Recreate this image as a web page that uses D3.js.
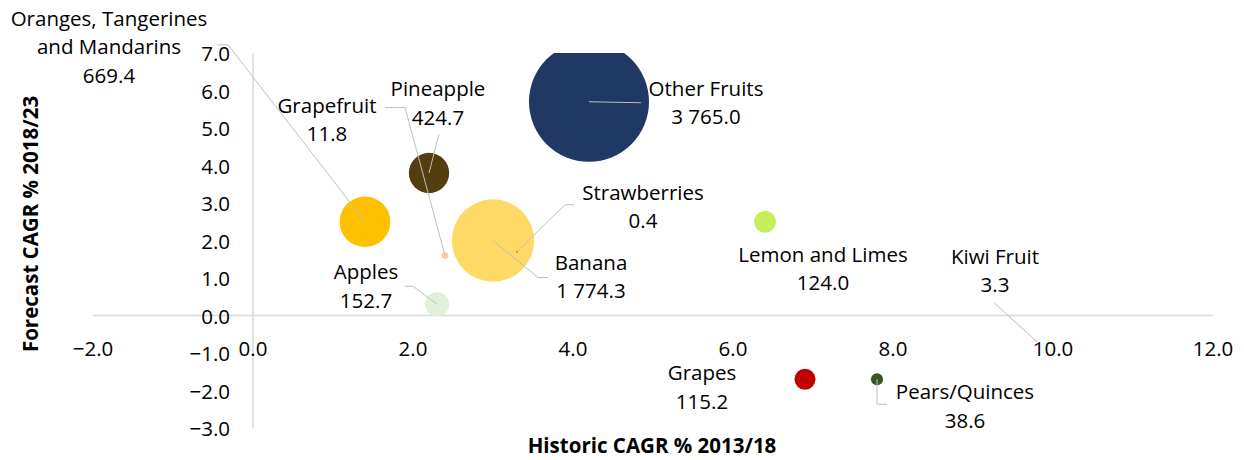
<!DOCTYPE html>
<html>
<head>
<meta charset="utf-8">
<script src="https://cdn.jsdelivr.net/npm/d3@7"></script>
<style>
  body { margin: 0; background: #fff; }
  svg { display: block; font-family: "Open Sans", sans-serif; }
  .ax line { stroke: #d9d9d9; stroke-width: 1.5; }
  .tick-label { font-size: 20.5px; fill: #000; }
  .ax-title { font-size: 20.5px; font-weight: bold; fill: #000; }
  .lbl { font-size: 20.5px; fill: #000; }
  .leader { fill: none; stroke: #bfbfbf; stroke-width: 1; }
</style>
</head>
<body>
<svg id="chart" width="1244" height="460"></svg>
<script>
// data
var fruits = ['Oranges, Tangerines and Mandarins', 'Pineapple', 'Other Fruits', 'Banana',
  'Strawberries', 'Grapefruit', 'Apples', 'Lemon and Limes', 'Grapes', 'Pears/Quinces', 'Kiwi Fruit']
var historic = [1.4, 2.2, 4.2, 3.0, 3.3, 2.4, 2.3, 6.4, 6.9, 7.8, 9.8]
var forecast = [2.5, 3.8, 5.7, 2.0, 1.7, 1.6, 0.3, 2.5, -1.7, -1.7, -0.7]
var sizes = [669.4, 424.7, 3765.0, 1774.3, 0.4, 11.8, 152.7, 124.0, 115.2, 38.6, 3.3]
var sizeLabels = ['669.4', '424.7', '3 765.0', '1 774.3', '0.4', '11.8', '152.7', '124.0', '115.2', '38.6', '3.3']
var xTicks = [-2, 0, 2, 4, 6, 8, 10, 12]
var yTicks = [-3, -2, -1, 0, 1, 2, 3, 4, 5, 6, 7]

var colors = ['#ffc000', '#543d0e', '#203864', '#ffd966', '#ff0000', '#f8cbad',
  '#e2efda', '#c5ee5a', '#c00000', '#375623', '#ffffff']

// label layout: text lines, offset of first line from bubble centre, leader polyline offsets
var layout = [
  {lines: ['Oranges, Tangerines', 'and Mandarins'], dx: -256, dy: -203, leader: [[-148, -177], [-137, -177], [0, 0]]},
  {lines: ['Pineapple'], dx: 9, dy: -84, leader: [[10, -39], [0, 0]]},
  {lines: ['Other Fruits'], dx: 117, dy: -13, leader: [[52, 1], [0, 0]]},
  {lines: ['Banana'], dx: 98, dy: 22, leader: [[0, 0], [45, 37], [55, 37]]},
  {lines: ['Strawberries'], dx: 126, dy: -59, leader: [[57, -47], [48, -47], [0, 0]]},
  {lines: ['Grapefruit'], dx: -118, dy: -150, leader: [[-60, -148], [-40, -148], [0, 0]]},
  {lines: ['Apples'], dx: -71, dy: -32, leader: [[-32, -18], [-24, -18], [0, 0]]},
  {lines: ['Lemon and Limes'], dx: 58, dy: 33, leader: null},
  {lines: ['Grapes'], dx: -103, dy: -6, leader: null},
  {lines: ['Pears/Quinces'], dx: 88, dy: 13, leader: [[0, 0], [0, 25], [10, 25]]},
  {lines: ['Kiwi Fruit'], dx: -42, dy: -85, leader: [[-43, -39], [0, 0]]}
]

var svg = d3.select('#chart')
var lineH = 28.5

/*
    --------------------------------------
    Scales
*/
var mapx = d3.scaleLinear().domain([-2, 12]).range([93, 1213])
var mapy = d3.scaleLinear().domain([-3, 7]).range([428, 53])
var mapr = d3.scaleSqrt().domain([0, 3765]).range([0, 60])

svg.append('defs').append('clipPath').attr('id', 'plot')
  .append('rect')
  .attr('x', mapx(-2)).attr('y', mapy(7))
  .attr('width', mapx(12) - mapx(-2)).attr('height', mapy(-3) - mapy(7))

/*
    --------------------------------------
    Axes (crossing at zero)
*/
var ax = svg.append('g').classed('ax', true)
ax.append('line')
  .attr('x1', mapx(-2)).attr('x2', mapx(12))
  .attr('y1', mapy(0)).attr('y2', mapy(0))
ax.append('line')
  .attr('x1', mapx(0)).attr('x2', mapx(0))
  .attr('y1', mapy(-3)).attr('y2', mapy(7))

svg.append('g').selectAll('text')
  .data(xTicks)
  .join('text')
  .classed('tick-label', true)
  .attr('x', d => mapx(d))
  .attr('y', mapy(0) + 32)
  .attr('text-anchor', 'middle')
  .attr('dominant-baseline', 'central')
  .text(d => d3.format('.1f')(d))

svg.append('g').selectAll('text')
  .data(yTicks)
  .join('text')
  .classed('tick-label', true)
  .attr('x', mapx(0) - 23)
  .attr('y', d => mapy(d))
  .attr('text-anchor', 'end')
  .attr('dominant-baseline', 'central')
  .text(d => d3.format('.1f')(d))

svg.append('text')
  .classed('ax-title', true)
  .attr('x', 652).attr('y', 445)
  .attr('text-anchor', 'middle')
  .attr('dominant-baseline', 'central')
  .text('Historic CAGR % 2013/18')

svg.append('text')
  .classed('ax-title', true)
  .attr('transform', 'translate(30,224) rotate(-90)')
  .attr('text-anchor', 'middle')
  .attr('dominant-baseline', 'central')
  .text('Forecast CAGR % 2018/23')

/*
    --------------------------------------
    Bubbles
*/
var pts = fruits.map(function (f, i) {
  return {name: f, x: historic[i], y: forecast[i], v: sizes[i], label: sizeLabels[i], color: colors[i], lay: layout[i]}
})

svg.append('g').attr('clip-path', 'url(#plot)')
  .selectAll('circle')
  .data(pts)
  .join('circle')
  .attr('cx', d => mapx(d.x))
  .attr('cy', d => mapy(d.y))
  .attr('r', d => Math.max(mapr(d.v), 0.8))
  .attr('fill', d => d.color)

/*
    --------------------------------------
    Leaders and labels
*/
var line = d3.line()
svg.append('g').selectAll('path')
  .data(pts.filter(d => d.lay.leader))
  .join('path')
  .classed('leader', true)
  .attr('d', function (d) {
    var cx = mapx(d.x), cy = mapy(d.y)
    return line(d.lay.leader.map(p => [cx + p[0], cy + p[1]]))
  })

var lbl = svg.append('g').selectAll('text')
  .data(pts)
  .join('text')
  .classed('lbl', true)
  .attr('text-anchor', 'middle')
  .attr('x', d => mapx(d.x) + d.lay.dx)
  .attr('y', d => mapy(d.y) + d.lay.dy)

lbl.selectAll('tspan')
  .data(d => d.lay.lines.concat([d.label]).map(t => ({t: t, x: mapx(d.x) + d.lay.dx})))
  .join('tspan')
  .attr('x', d => d.x)
  .attr('dy', (d, i) => i === 0 ? '0.35em' : lineH)
  .text(d => d.t)
</script>
</body>
</html>
